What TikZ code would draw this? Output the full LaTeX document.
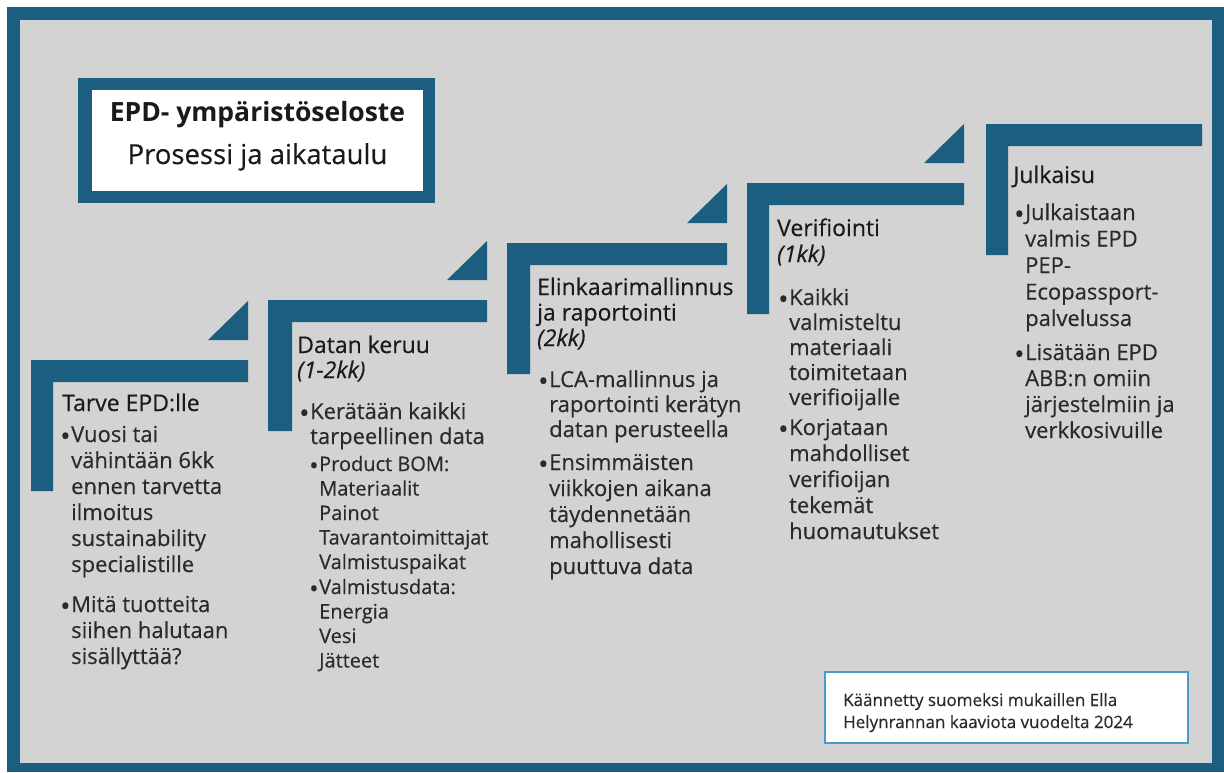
\documentclass[tikz,border=0pt]{standalone}
\usepackage{fontspec}
\setmainfont{Open Sans}[UprightFeatures={FakeBold=0.4},ItalicFeatures={FakeBold=0.4}]
\definecolor{frameblue}{HTML}{1B5E7F}
\definecolor{panelgray}{HTML}{D3D3D3}
\definecolor{inkdark}{HTML}{1A1A1A}
\definecolor{inkbody}{HTML}{2A2A2A}
\definecolor{noteedge}{HTML}{4A9CC8}
% a block of lines with a fixed line pitch; the reference point is the first baseline
\newcommand\linesblock[2]{\parbox[t]{320pt}{\raggedright\setlength{\baselineskip}{#1}#2}}
% a round bullet, a little larger than the text bullet, centred on the x-height
\newcommand\bigdot{\hspace*{-2pt}\raisebox{-0.17em}{\scalebox{1.25}{\textbullet}}}
% a bulleted block: bullet box width, line pitch, lines
\newcommand\bulletblock[3]{\makebox[#1][l]{\bigdot}\linesblock{#2}{#3}}
% one stair step: left x, top y, bar length, post width
\newcommand\stairstep[4]{%
  \fill[frameblue] (#1,#2) -- (#1+#3,#2) -- (#1+#3,#2+22) -- (#1+#4,#2+22)
    -- (#1+#4,#2+131) -- (#1,#2+131) -- cycle;}
\newcommand\stairwedge[2]{% right x, top of the bar below
  \fill[frameblue] (#1-40,#2-20) -- (#1,#2-20) -- (#1,#2-59) -- cycle;}
\begin{document}
\begin{tikzpicture}[x=1pt,y=-1pt,
  heading/.style={anchor=base west,inner sep=0pt,text=inkdark,font=\fontsize{23}{26}\selectfont},
  item/.style={anchor=base west,inner sep=0pt,text=inkbody,font=\fontsize{22}{26}\selectfont},
  subitem/.style={anchor=base west,inner sep=0pt,text=inkbody,font=\fontsize{20}{24}\selectfont},
  note/.style={anchor=base west,inner sep=0pt,text=inkbody,font=\fontsize{17}{22}\selectfont}]
\useasboundingbox (0,0) rectangle (1224,772);
% frame and panel
\fill[white] (0,0) rectangle (1224,772);
\fill[frameblue] (7,7) rectangle (1224,772);
\fill[panelgray] (20,20) rectangle (1212,763);
% title box
\fill[frameblue] (78,78) rectangle (435,203);
\fill[white] (92,90) rectangle (423,191);
\node[anchor=base,inner sep=0pt,text=inkdark,font=\fontsize{26.5}{30}\selectfont\bfseries]
  (title) at (257.5,121) {EPD- ympäristöseloste};
\node[anchor=base,inner sep=0pt,text=inkdark,font=\fontsize{27.5}{30}\selectfont]
  (subtitle) at (257.5,164) {Prosessi ja aikataulu};
% stairs
\stairstep{31}{360}{217}{22}
\stairwedge{248}{360}
\stairstep{268}{300}{219}{24}
\stairwedge{487}{300}
\stairstep{507}{243}{220}{23}
\stairwedge{727}{243}
\stairstep{747}{183}{217}{22}
\stairwedge{964}{183}
\stairstep{986}{124}{216}{22}
% stage 1
\node[heading] (h1) at (62,411) {Tarve EPD:lle};
\node[item] (b1a) at (62,442) {\bulletblock{9pt}{26pt}{Vuosi tai\\vähintään 6kk\\ennen tarvetta\\ilmoitus\\sustainability\\specialistille}};
\node[item] (b1b) at (62,612) {\bulletblock{9pt}{26pt}{Mitä tuotteita\\siihen halutaan\\sisällyttää?}};
% stage 2
\node[heading] (h2) at (297,353) {\linesblock{25pt}{Datan keruu\\\textit{(1-2kk)}}};
\node[item] (b2a) at (301,419) {\bulletblock{9pt}{25pt}{Kerätään kaikki\\tarpeellinen data}};
\node[subitem] (b2b) at (311,471) {\bulletblock{8pt}{24.5pt}{Product BOM:\\Materiaalit\\Painot\\Tavarantoimittajat\\Valmistuspaikat}};
\node[subitem] (b2c) at (311,594) {\bulletblock{8pt}{24.5pt}{Valmistusdata:\\Energia\\Vesi\\Jätteet}};
% stage 3
\node[heading] (h3) at (537,295) {\linesblock{25.5pt}{Elinkaarimallinnus\\ja raportointi\\\textit{(2kk)}}};
\node[item] (b3a) at (540,387) {\bulletblock{9pt}{25pt}{LCA-mallinnus ja\\raportointi kerätyn\\datan perusteella}};
\node[item] (b3b) at (540,470) {\bulletblock{9pt}{26pt}{Ensimmäisten\\viikkojen aikana\\täydennetään\\mahollisesti\\puuttuva data}};
% stage 4
\node[heading] (h4) at (777,236) {\linesblock{26pt}{Verifiointi\\\textit{(1kk)}}};
\node[item] (b4a) at (780,305) {\bulletblock{9pt}{25pt}{Kaikki\\valmisteltu\\materiaali\\toimitetaan\\verifioijalle}};
\node[item] (b4b) at (780,435) {\bulletblock{9pt}{26pt}{Korjataan\\mahdolliset\\verifioijan\\tekemät\\huomautukset}};
% stage 5
\node[heading] (h5) at (1013,183) {Julkaisu};
\node[item] (b5a) at (1016,220) {\bulletblock{9pt}{26.5pt}{Julkaistaan\\valmis EPD\\PEP-\\Ecopassport-\\palvelussa}};
\node[item] (b5b) at (1016,360) {\bulletblock{9pt}{26pt}{Lisätään EPD\\ABB:n omiin\\järjestelmiin ja\\verkkosivuille}};
% credit box
\draw[noteedge,line width=1.5pt,fill=white] (825,672) rectangle (1188,743);
\node[note] (credit) at (843,706) {\linesblock{22pt}{Käännetty suomeksi mukaillen Ella\\Helynrannan kaaviota vuodelta 2024}};
\end{tikzpicture}
\end{document}
